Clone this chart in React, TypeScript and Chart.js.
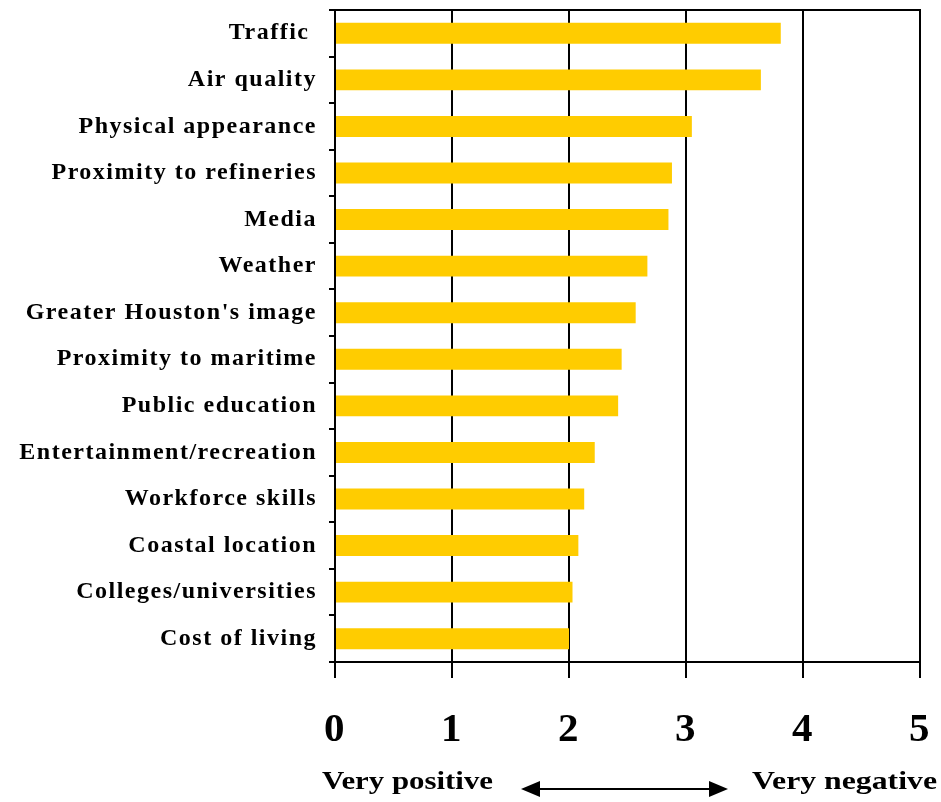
import { useEffect, useRef } from "react";
import { Chart, registerables } from "chart.js";

Chart.register(...registerables);

const categories = [
  "Traffic ",
  "Air quality",
  "Physical appearance",
  "Proximity to refineries",
  "Media",
  "Weather",
  "Greater Houston's image",
  "Proximity to maritime",
  "Public education",
  "Entertainment/recreation",
  "Workforce skills",
  "Coastal location",
  "Colleges/universities",
  "Cost of living",
];
const ratings = [3.81, 3.64, 3.05, 2.88, 2.85, 2.67, 2.57, 2.45, 2.42, 2.22, 2.13, 2.08, 2.03, 2.0];
const xMin = 0;
const xMax = 5;
const xStep = 1;
const leftCaption = "Very positive";
const rightCaption = "Very negative";

const FONT = '"Liberation Serif", "Times New Roman", serif';

const zeroPadding = (scale: any) => {
  scale.paddingLeft = 0;
  scale.paddingRight = 0;
  scale.paddingTop = 0;
  scale.paddingBottom = 0;
};

const decorPlugin = {
  id: "decor",
  beforeDraw(chart: any) {
    chart.ctx.letterSpacing = "1.5px";
  },
  afterDraw(chart: any) {
    const ctx = chart.ctx as CanvasRenderingContext2D;
    const a = chart.chartArea;
    ctx.save();
    (ctx as any).letterSpacing = "0px";
    // top border
    ctx.strokeStyle = "#000";
    ctx.lineWidth = 2;
    ctx.beginPath();
    ctx.moveTo(a.left - 1, a.top);
    ctx.lineTo(a.right + 1, a.top);
    ctx.stroke();

    // captions
    ctx.fillStyle = "#000";
    ctx.font = `bold 26px ${FONT}`;
    ctx.textBaseline = "alphabetic";
    const baseY = 789;
    const drawStretched = (text: string, x0: number, x1: number) => {
      const w = ctx.measureText(text).width;
      const sx = (x1 - x0) / w;
      ctx.save();
      ctx.translate(x0, baseY);
      ctx.scale(sx, 1);
      ctx.textAlign = "left";
      ctx.fillText(text, 0, 0);
      ctx.restore();
    };
    drawStretched(leftCaption, a.left - 13, a.left + 158);
    drawStretched(rightCaption, a.right - 168, a.right + 17);

    // double arrow
    const ay = 789;
    const xl = 521;
    const xr = 728;
    const hl = 19;
    const hh = 8;
    ctx.beginPath();
    ctx.moveTo(xl + hl - 1, ay);
    ctx.lineTo(xr - hl + 1, ay);
    ctx.stroke();
    ctx.beginPath();
    ctx.moveTo(xl, ay);
    ctx.lineTo(xl + hl, ay - hh);
    ctx.lineTo(xl + hl, ay + hh);
    ctx.closePath();
    ctx.fill();
    ctx.beginPath();
    ctx.moveTo(xr, ay);
    ctx.lineTo(xr - hl, ay - hh);
    ctx.lineTo(xr - hl, ay + hh);
    ctx.closePath();
    ctx.fill();
    ctx.restore();
  },
};

export default function App() {
  const ref = useRef<HTMLCanvasElement | null>(null);

  useEffect(() => {
    if (!ref.current) return;
    const chart = new Chart(ref.current, {
      type: "bar",
      data: {
        labels: categories,
        datasets: [
          {
            data: ratings,
            backgroundColor: "#FFCC00",
            borderWidth: 0,
            barPercentage: 0.45,
            categoryPercentage: 1,
          },
        ],
      },
      options: {
        indexAxis: "y",
        responsive: false,
        animation: false,
        layout: { padding: { top: 10, right: 21, left: 0, bottom: 0 } },
        plugins: {
          legend: { display: false },
          tooltip: { enabled: false },
        },
        scales: {
          x: {
            type: "linear",
            min: xMin,
            max: xMax,
            ticks: {
              stepSize: xStep,
              color: "#000",
              padding: 28,
              font: { family: FONT, size: 41, weight: "bold" },
            },
            grid: {
              color: "#000",
              lineWidth: 2,
              drawOnChartArea: true,
              drawTicks: true,
              tickLength: 16,
              tickColor: "#000",
            },
            border: { display: true, color: "#000", width: 2 },
            afterFit(scale: any) {
              scale.height = 140;
              zeroPadding(scale);
            },
          },
          y: {
            type: "category",
            offset: true,
            ticks: {
              color: "#000",
              padding: 12,
              autoSkip: false,
              font: { family: FONT, size: 24, weight: "bold" },
            },
            grid: {
              offset: true,
              drawOnChartArea: false,
              drawTicks: true,
              tickLength: 6,
              color: "#000",
              lineWidth: 2,
            },
            border: { display: true, color: "#000", width: 2 },
            afterFit(scale: any) {
              scale.width = 335;
              zeroPadding(scale);
            },
          },
        },
      },
      plugins: [decorPlugin],
    } as any);
    return () => chart.destroy();
  }, []);

  return (
    <div style={{ position: "fixed", left: 0, top: 0, width: 941, height: 802, background: "#fff" }}>
      <canvas ref={ref} width={941} height={802} style={{ width: 941, height: 802, display: "block" }} />
    </div>
  );
}
